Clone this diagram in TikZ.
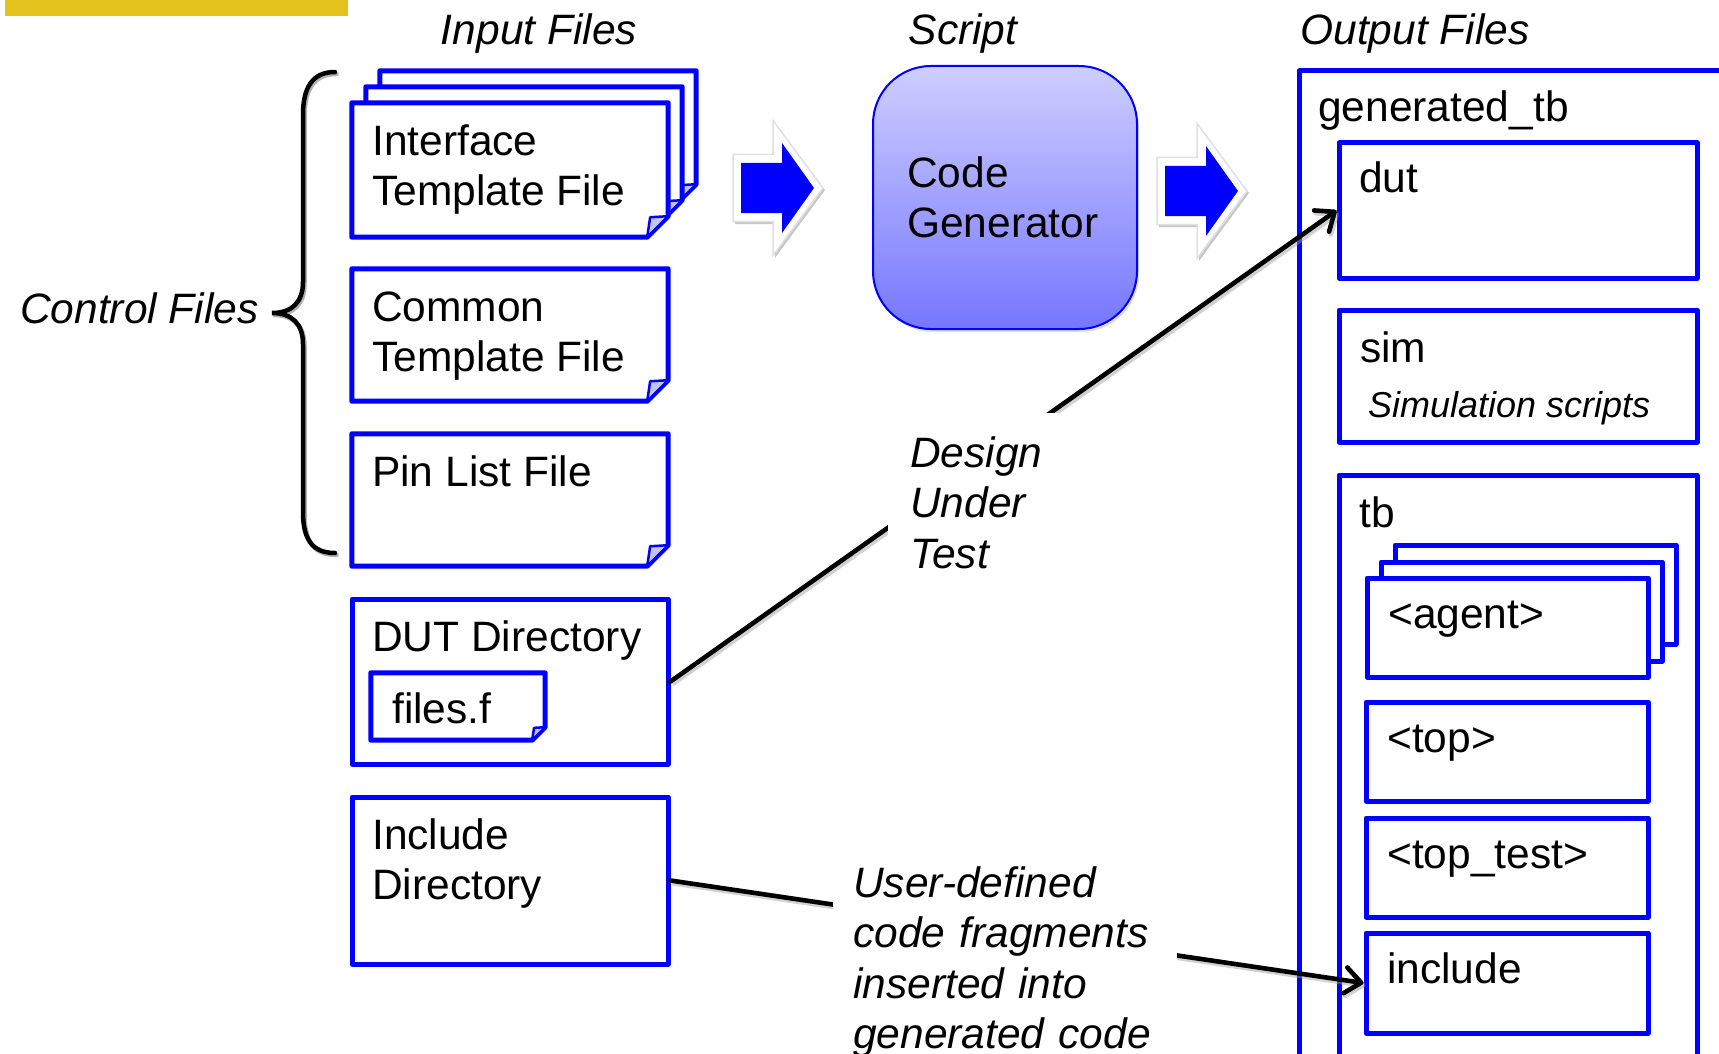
\documentclass[tikz,border=0pt]{standalone}
\usepackage{fontspec}
\setmainfont{Liberation Sans}
\usetikzlibrary{arrows.meta,calc,shadows}

\definecolor{fileblue}{RGB}{0,0,255}
\definecolor{flapfill}{RGB}{196,196,240}
\definecolor{genTop}{RGB}{206,206,255}
\definecolor{genBot}{RGB}{118,118,255}
\definecolor{banner}{RGB}{229,195,31}

\tikzset{
  big/.style={font=\fontsize{42.5}{50}\selectfont},
  bigit/.style={font=\fontsize{42.5}{50.5}\selectfont\itshape},
  frame/.style={draw=fileblue, line width=5pt, line join=round},
  sheet/.style={draw=fileblue, fill=white, line width=5pt, line join=round},
  flap/.style={draw=fileblue, fill=flapfill, line width=2.5pt, line join=round},
  txt/.style={big, anchor=base west, inner sep=0pt, align=left},
  link/.style={draw=black, line width=4.6pt, line cap=round,
    -{Straight Barb[length=16pt,width=26pt,round]}},
  linkshadow/.style={draw=black!40, line width=5pt, opacity=0.45,
    transform canvas={xshift=2pt,yshift=-2.5pt},
    -{Straight Barb[length=16pt,width=26pt,round]}},
  bracepen/.style={draw=black, line width=4.5pt, line cap=round},
}

% empty box node given by its corners (x1,y1) (x2,y2)
\newcommand\placebox[6][]{%
  \node[inner sep=0pt, minimum width={#5-#3}, minimum height={#6-#4}, #1]
    (#2) at ({(#3+#5)/2},{(#4+#6)/2}) {};}

% sheet outline with a folded lower right corner
\newcommand\foldedsheet[2]{%
  \path[sheet] (#1.north west) -- (#1.north east) -- ($(#1.south east)+(0,-#2)$)
    -- ($(#1.south east)+(-#2,0)$) -- (#1.south west) -- cycle;
  \path[flap] ($(#1.south east)+(0,-#2)$) -- ($(#1.south east)+(-#2,0)$)
    -- ($(#1.south east)+({-0.86*#2},{-0.95*#2})$) -- cycle;}

% bevelled block arrow, shaft starting at (#1,#2)
\newcommand\blockarrow[2]{%
  \begin{scope}[shift={(#1,#2)}]
    \fill[black!22] (-6,-31) -- (34,-31) -- (34,-65) -- (84,2) -- (34,70) -- (34,36) -- (-6,36) -- cycle;
    \path[fill=white, draw=black!12, line width=1.5pt]
      (-8,-33.5) -- (32,-33.5) -- (32,-67.5) -- (82,0) -- (32,67.5) -- (32,33.5) -- (-8,33.5) -- cycle;
    \fill[fileblue] (0,-25) -- (41,-25) -- (41,-45) -- (73,0) -- (41,45) -- (41,25) -- (0,25) -- cycle;
  \end{scope}}

\begin{document}
\begin{tikzpicture}[x=1pt, y=-1pt]
\useasboundingbox (0,0) rectangle (1719,1054);
\clip (0,0) rectangle (1719,1054);

% banner strip
\fill[banner] (5,0) rectangle (348,16);

% column headings
\node[bigit, anchor=base, inner sep=0pt] (h-in) at (539,45) {Input Files};
\node[bigit, anchor=base, inner sep=0pt] (h-script) at (963,45) {Script};
\node[bigit, anchor=base, inner sep=0pt] (h-out) at (1415,45) {Output Files};

% control files brace
\path[bracepen, draw=black!30, transform canvas={xshift=1.5pt,yshift=-2pt}]
  (335,72) .. controls (312,72) and (303,88) .. (303,115) -- (303,282)
  .. controls (303,302) and (292,313) .. (272,313)
  .. controls (292,313) and (303,324) .. (303,344) -- (303,512)
  .. controls (303,539) and (312,553) .. (335,553);
\path[bracepen]
  (335,72) .. controls (312,72) and (303,88) .. (303,115) -- (303,282)
  .. controls (303,302) and (292,313) .. (272,313)
  .. controls (292,313) and (303,324) .. (303,344) -- (303,512)
  .. controls (303,539) and (312,553) .. (335,553);
\node[bigit, anchor=base west, inner sep=0pt] (t-ctrl) at (20,323) {Control Files};

% input files (multi-line labels sit on the baseline of their last line)
\placebox{ifc3}{380}{71}{696}{205}
\placebox{ifc2}{366}{87}{682}{221}
\placebox{ifc}{352}{103}{668}{237}
\foldedsheet{ifc3}{21}
\foldedsheet{ifc2}{21}
\foldedsheet{ifc}{21}
\node[txt] (t-ifc) at (372,205) {Interface\\Template File};

\placebox{common}{352}{269}{668}{401}
\foldedsheet{common}{21}
\node[txt] (t-common) at (372,371) {Common\\Template File};

\placebox{pins}{352}{434}{668}{566}
\foldedsheet{pins}{21}
\node[txt] (t-pins) at (372,486) {Pin List File};

\placebox[frame, fill=white]{dutdir}{352}{599}{668}{764}
\node[txt] (t-dutdir) at (372,651) {DUT Directory};
\placebox{filesf}{371}{673}{545}{740}
\foldedsheet{filesf}{13}
\node[txt] (t-filesf) at (392,723) {files.f};

\placebox[frame, fill=white]{incdir}{352}{797}{668}{964}
\node[txt] (t-incdir) at (372,899) {Include\\Directory};

% flow arrows
\blockarrow{741}{188}
\blockarrow{1165}{191}

% script
\node[draw=fileblue, line width=2pt, rounded corners=58pt, top color=genTop,
  bottom color=genBot, minimum width=264, minimum height=263, inner sep=0pt,
  drop shadow={opacity=0.25, shadow xshift=2pt, shadow yshift=-3pt}]
  (codegen) at (1005,197.5) {};
\node[txt] (t-codegen) at (907,237) {Code\\Generator};

% output files
\placebox[frame]{gentb}{1299}{71}{1780}{1120}
\node[txt] (t-gentb) at (1318,122) {generated\_tb};
\placebox[frame]{dut}{1339}{143}{1697}{278}
\node[txt] (t-dut) at (1359,193) {dut};
\placebox[frame]{sim}{1339}{310}{1697}{442}
\node[txt] (t-sim) at (1360,362) {sim};
\node[txt, font=\fontsize{36}{40}\selectfont\itshape] (t-simnote) at (1368,417) {Simulation scripts};
\placebox[frame]{tb}{1339}{475}{1697}{1120}
\node[txt] (t-tb) at (1359,527) {tb};
\placebox[frame, fill=white]{agent3}{1395}{545}{1676}{644}
\placebox[frame, fill=white]{agent2}{1381}{562}{1662}{661}
\placebox[frame, fill=white]{agent}{1367}{578}{1648}{677}
\node[txt] (t-agent) at (1388,628) {<agent>};
\placebox[frame]{top}{1366}{702}{1648}{801}
\node[txt] (t-top) at (1387,752) {<top>};
\placebox[frame]{toptest}{1366}{818}{1648}{917}
\node[txt] (t-toptest) at (1387,868) {<top\_test>};
\placebox[frame]{include}{1366}{933}{1648}{1033}
\node[txt] (t-include) at (1387,983) {include};

% connectors
\draw[linkshadow] (dutdir.east) -- (dut.west);
\draw[link] (dutdir.east) -- (dut.west);
\draw[linkshadow] (incdir.east) -- (include.west);
\draw[link] (incdir.east) -- (include.west);

% connector labels
\node[bigit, fill=white, inner xsep=22pt, inner ysep=23pt, anchor=base west,
  align=left] (dutlabel) at (888,568) {Design\\Under\\Test};
\node[bigit, fill=white, inner xsep=20pt, inner ysep=8pt, anchor=base west,
  text width=304pt, align=left] (userlabel) at (833,897)
  {User-defined\\code fragments\\inserted into\\generated code};
\end{tikzpicture}
\end{document}
